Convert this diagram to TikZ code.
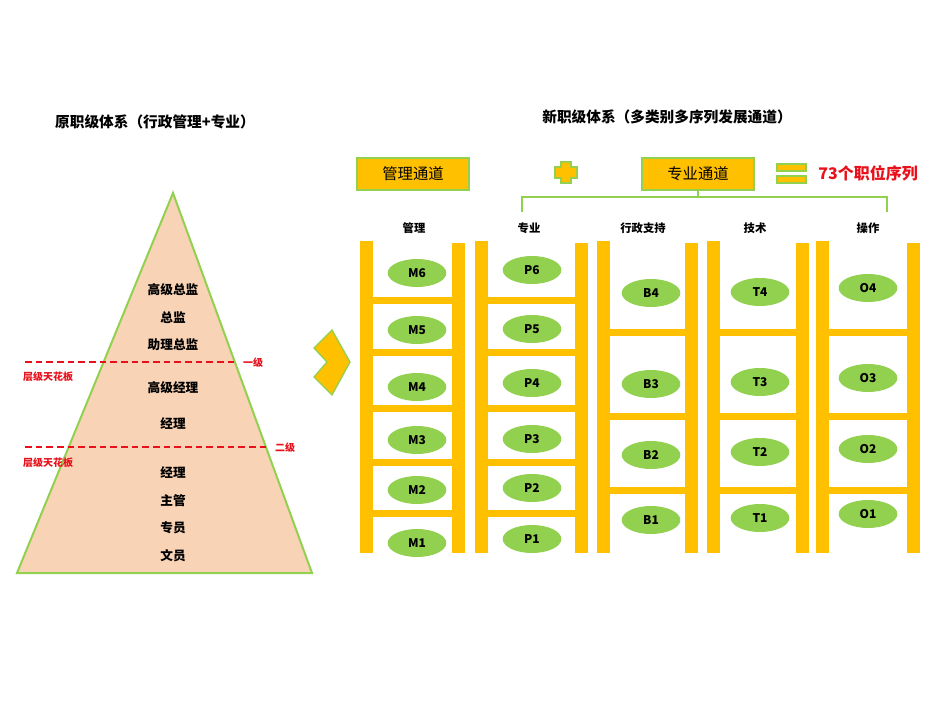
\documentclass[tikz,border=0pt]{standalone}
\usepackage{fontspec}
\setmainfont{Noto Sans CJK SC}
\usetikzlibrary{shapes.geometric}
\definecolor{gold}{HTML}{FFC000}
\definecolor{lgreen}{HTML}{92D050}
\definecolor{peach}{HTML}{F9D3B5}
\definecolor{redc}{HTML}{E8101A}
\begin{document}
\begin{tikzpicture}[x=0.75pt,y=-0.75pt,
  lbl/.style={font=\bfseries\fontsize{9.5}{11}\selectfont},
  rail/.style={fill=gold,draw=none},
  lvl/.style={ellipse,fill=lgreen,draw=none,minimum width=44pt,minimum height=21pt,inner sep=0pt,font=\bfseries\fontsize{9}{11}\selectfont},
  hd/.style={font=\bfseries\fontsize{8.5}{10}\selectfont},
  chan/.style={fill=gold,draw=lgreen,line width=2pt,minimum width=84pt,minimum height=24pt,font=\fontsize{11.5}{13}\selectfont},
  ceil/.style={redc,dashed,line width=1.3pt,dash pattern=on 5pt off 3pt},
  rtxt/.style={text=redc,font=\bfseries\fontsize{7.5}{9}\selectfont}]
\useasboundingbox (0,0) rectangle (950,713);
% titles
\node[font=\bfseries\fontsize{11}{13}\selectfont] (t1) at (155,122) {原职级体系（行政管理+专业）};
\node[font=\bfseries\fontsize{11}{13}\selectfont] (t2) at (667,117) {新职级体系（多类别多序列发展通道）};
% pyramid
\draw[fill=peach,draw=lgreen,line width=1.5pt] (173,193) -- (312,573) -- (17,573) -- cycle;
\draw[ceil] (25,362) -- (238,362);
\draw[ceil] (25,447) -- (270,447);
\node[rtxt] (l1) at (253,363) {一级};
\node[rtxt] (l2) at (285,448) {二级};
\node[rtxt] (c1) at (48,377) {层级天花板};
\node[rtxt] (c2) at (48,463) {层级天花板};
\foreach \t/\y in {高级总监/290,总监/318,助理总监/345,高级经理/388,经理/424,经理/473,主管/501,专员/528,文员/556}
  \node[lbl] at (173,\y) {\t};
% chevron
\draw[fill=gold,draw=lgreen,line width=1pt] (314,348) -- (332,330) -- (350,362) -- (332,395) -- (314,377) -- (327,362) -- cycle;
% channel boxes
\node[chan] (mg) at (413,174) {管理通道};
\node[chan] (zy) at (698,174) {专业通道};
\draw[fill=gold,draw=lgreen,line width=1.5pt] (561,162) rectangle (571,183) (555,167) rectangle (577,178);
\fill[gold] (562,163) rectangle (570,182) (556,168) rectangle (576,177);
\draw[fill=gold,draw=lgreen,line width=1.5pt] (777,164) rectangle (806,171) (777,176) rectangle (806,183);
\node[text=redc,font=\bfseries\itshape\fontsize{12}{14}\selectfont] (n73) at (868,173) {73个职位序列};
\draw[lgreen,line width=0.8pt] (zy.south) -- ++(0,7) coordinate (bk);
\draw[lgreen,line width=0.8pt] (522,212) -- (522,197) -- (887,197) -- (887,212);
% headers
\foreach \t/\x in {管理/414,专业/529,行政支持/643,技术/755,操作/868}
  \node[hd] at (\x,228) {\t};
% ladders
\foreach \a/\b in {360/452,475/575,597/685,707/796,816/907}{
  \fill[rail] (\a,241) rectangle ++(13,312);
  \fill[rail] (\b,243) rectangle ++(13,310);
}
\foreach \y in {300,352,408,462,513}{
  \fill[rail] (373,\y-3.5) rectangle (452,\y+3.5);
  \fill[rail] (488,\y-3.5) rectangle (575,\y+3.5);
}
\foreach \y in {332,416,490}{
  \fill[rail] (610,\y-3.5) rectangle (685,\y+3.5);
  \fill[rail] (720,\y-3.5) rectangle (796,\y+3.5);
  \fill[rail] (829,\y-3.5) rectangle (907,\y+3.5);
}
% level ellipses
\foreach \n/\y in {6/273,5/330,4/387,3/440,2/490,1/543} \node[lvl] (M\n) at (417,\y) {M\n};
\foreach \n/\y in {6/270,5/329,4/383,3/439,2/488,1/539} \node[lvl] (P\n) at (532,\y) {P\n};
\foreach \n/\y in {4/293,3/384,2/455,1/520} \node[lvl] (B\n) at (651,\y) {B\n};
\foreach \n/\y in {4/292,3/382,2/452,1/518} \node[lvl] (T\n) at (760,\y) {T\n};
\foreach \n/\y in {4/288,3/378,2/449,1/514} \node[lvl] (O\n) at (868,\y) {O\n};
\end{tikzpicture}
\end{document}
